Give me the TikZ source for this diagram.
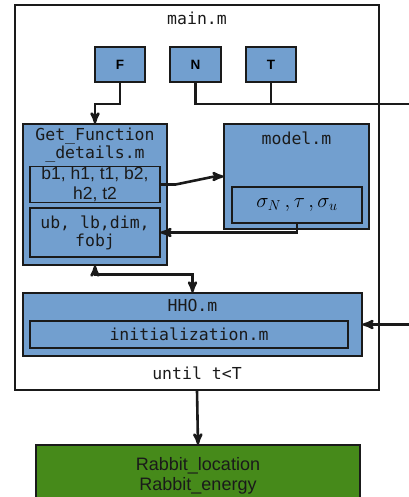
\documentclass[tikz,border=0pt]{standalone}
\usepackage{fontspec}
\setmonofont{DejaVu Sans Mono}
\setsansfont{Liberation Sans}
\usetikzlibrary{arrows, calc}
\definecolor{boxblue}{HTML}{729FCF}
\definecolor{outgreen}{HTML}{468A1A}
\definecolor{ink}{HTML}{1A1A1A}
\tikzset{
  module/.style={draw=ink, fill=boxblue, line width=1.2pt, inner sep=0pt},
  input/.style={module, minimum width=50pt, minimum height=35pt, font=\sffamily\bfseries\fontsize{13.5}{15}\selectfont},
  code/.style={font=\ttfamily\fontsize{16.5}{18}\selectfont, text=ink, align=center, inner sep=0pt},
  link/.style={line width=2.6pt, draw=ink},
}
\begin{document}
\begin{tikzpicture}[x=1pt, y=-1pt, >=stealth', shorten >=0pt]
  \useasboundingbox (0,0) rectangle (408,497);
  % outer loop
  \node[draw=ink, line width=1.2pt, minimum width=364pt, minimum height=385pt] (main) at (197,197.5) {};
  \node[code] (maintitle) at (197,18) {main.m};
  \node[code] (until) at (197,373) {until t<T};
  % inputs
  \node[input] (F) at (120,64.5) {F};
  \node[input, minimum width=51pt] (N) at (195.5,64.5) {N};
  \node[input] (T) at (271,64.5) {T};
  % Get_Function_details.m
  \node[module, minimum width=144pt, minimum height=141pt] (get) at (95,194.5) {};
  \node[code, font=\ttfamily\fontsize{16.5}{16.5}\selectfont] (gettitle) at (95,145) {Get\_Function\\\_details.m};
  \node[module, minimum width=130pt, minimum height=36pt, align=center,
        font=\sffamily\fontsize{17.5}{20}\selectfont, text=ink] (params) at (95,184.5) {b1, h1, t1, b2,\\h2, t2};
  \node[module, minimum width=130pt, minimum height=49pt, code] (bounds) at (95,232.5) {ub, lb,dim,\\fobj};
  % model.m
  \node[module, minimum width=145pt, minimum height=105pt] (model) at (296.5,176.5) {};
  \node[code] (modeltitle) at (296.5,138) {model.m};
  \node[module, minimum width=130pt, minimum height=36pt, font=\fontsize{21}{24}\selectfont] (sigma) at (297,205) {$\sigma_N\,,\tau\,,\sigma_u$};
  % HHO.m
  \node[module, minimum width=339pt, minimum height=63pt] (hho) at (192.5,324.5) {};
  \node[code] (hhotitle) at (192.5,305) {HHO.m};
  \node[module, minimum width=318pt, minimum height=27pt, code] (init) at (189,334.5) {initialization.m};
  % result
  \node[draw=ink, fill=outgreen, line width=1.2pt, minimum width=324pt, minimum height=62pt, align=center,
        font=\sffamily\fontsize{18}{19.5}\selectfont, text=ink] (output) at (198,476) {Rabbit\_location\\Rabbit\_energy};
  % connectors
  \coordinate (fjoin) at (95,104);
  \coordinate (ntout) at (410,104);
  \coordinate (hhoin) at (410,324.5);
  \draw[link, ->] (F.south) |- (fjoin) -- (get.north);
  \draw[link] (N.south) |- (ntout);
  \draw[link] (T.south) -- (T.south |- ntout);
  \draw[link, ->] (hhoin) -- (hho.east);
  \draw[link, ->] (params.east) -- ++(15,0) -- ($(model.west)+(-9,0)$) -- (model.west);
  \draw[link, ->] (sigma.south) |- (bounds.east);
  \draw[link, <->] (get.south) -- ++(0,9) -| (hho.north);
  \draw[link, ->] (main.south) -- (output.north);
\end{tikzpicture}
\end{document}
